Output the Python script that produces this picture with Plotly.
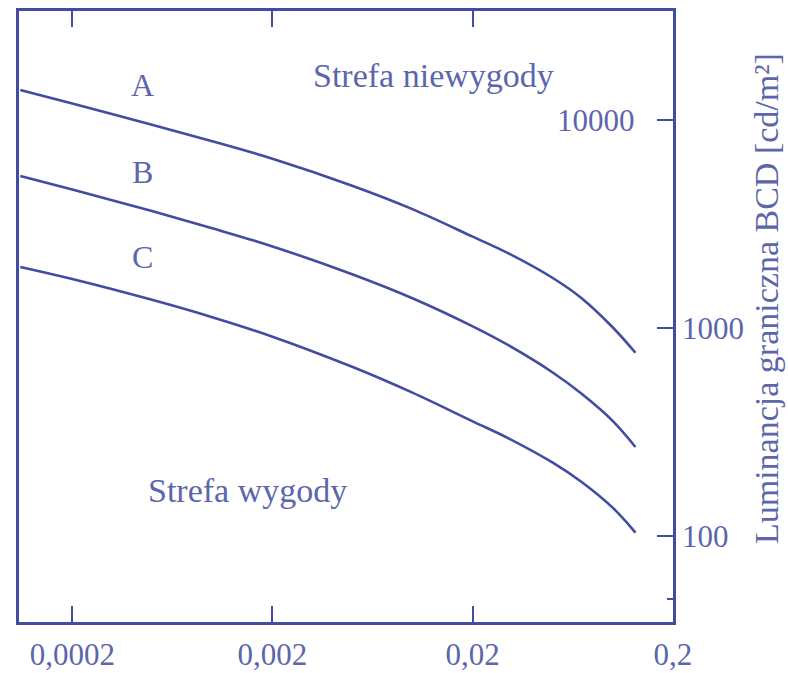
import numpy as np
import plotly.graph_objects as go

# ---- data ----
x_vals = [0.00011, 0.0002, 0.0005, 0.001, 0.002, 0.005, 0.01, 0.02, 0.03, 0.05, 0.07, 0.1, 0.13]
curve_A = [13940, 12003, 9493, 7907, 6515, 4832, 3729, 2750, 2292, 1745, 1392, 1009, 761]
curve_B = [5379, 4633, 3648, 3019, 2468, 1814, 1391, 1019, 829, 613, 483, 358, 268]
curve_C = [1965, 1720, 1366, 1127, 909, 651, 489, 356, 296, 226, 182, 137, 104]

x_tickvals = [0.0002, 0.002, 0.02, 0.2]
x_ticktext = ["0,0002", "0,002", "0,02", "0,2"]
y_tickvals = [100, 1000, 10000]
y_ticktext = ["100", "1000", ""]

curve_labels = ["A", "B", "C"]
label_pos = [(0.00045, 14700), (0.00045, 5620), (0.00045, 2190)]

LINE = "rgb(66,76,160)"
TEXT = "rgb(92,102,172)"
FONT = "Liberation Serif"

fig = go.Figure()
for ys in (curve_A, curve_B, curve_C):
    fig.add_trace(go.Scatter(x=x_vals, y=ys, mode="lines",
                             line=dict(color=LINE, width=2.6, shape="spline", smoothing=1.0),
                             showlegend=False, hoverinfo="skip"))

annotations = []
for lab, (lx, ly) in zip(curve_labels, label_pos):
    annotations.append(dict(x=np.log10(lx), y=np.log10(ly), xref="x", yref="y", text=lab,
                            showarrow=False, font=dict(family=FONT, size=32, color=TEXT)))
annotations.append(dict(x=np.log10(0.01268), y=np.log10(16280), xref="x", yref="y",
                        text="Strefa niewygody", showarrow=False,
                        font=dict(family=FONT, size=34, color=TEXT)))
annotations.append(dict(x=np.log10(0.001493), y=np.log10(166.3), xref="x", yref="y",
                        text="Strefa wygody", showarrow=False,
                        font=dict(family=FONT, size=34, color=TEXT)))
annotations.append(dict(x=0.945, y=4, xref="paper", yref="y", text="10000",
                        xanchor="right", yanchor="middle", showarrow=False,
                        font=dict(family=FONT, size=31, color=TEXT)))
annotations.append(dict(x=1.142, y=0.53, xref="paper", yref="paper",
                        text="Luminancja graniczna BCD [cd/m²]", textangle=-90,
                        showarrow=False, xanchor="center", yanchor="middle",
                        font=dict(family=FONT, size=34, color=TEXT)))

fig.update_layout(
    width=788, height=673,
    margin=dict(l=19, r=115, t=11, b=51, autoexpand=False),
    paper_bgcolor="white", plot_bgcolor="white",
    annotations=annotations,
    font=dict(family=FONT, color=TEXT),
)
fig.update_xaxes(type="log", range=[-3.965, -0.6985], automargin=False,
                 tickvals=x_tickvals, ticktext=x_ticktext,
                 ticks="inside", ticklen=16, tickwidth=2, tickcolor=LINE,
                 showline=True, linecolor=LINE, linewidth=2.5, mirror="ticks",
                 showgrid=False, zeroline=False,
                 ticklabelstandoff=3,
                 tickfont=dict(family=FONT, size=31, color=TEXT))
fig.update_yaxes(type="log", range=[1.587, 4.524], side="right", automargin=False,
                 tickvals=y_tickvals, ticktext=y_ticktext,
                 ticks="inside", ticklen=16, tickwidth=2, tickcolor=LINE,
                 minor=dict(tickvals=[50], ticks="inside", ticklen=6, tickcolor=LINE),
                 showline=True, linecolor=LINE, linewidth=2.5, mirror=True,
                 showgrid=False, zeroline=False,
                 ticklabelstandoff=0,
                 tickfont=dict(family=FONT, size=31, color=TEXT))

fig.write_html("out.html", config={"displayModeBar": False},
               post_script="document.body.style.margin='0';document.body.style.overflow='hidden';")
